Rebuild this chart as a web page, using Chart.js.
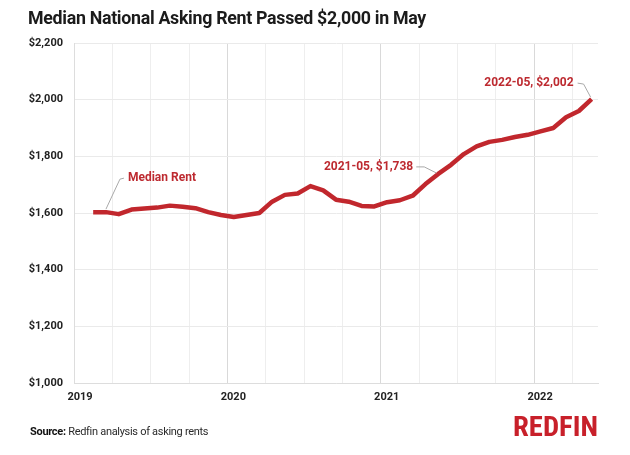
<!DOCTYPE html>
<html><head><meta charset="utf-8">
<script src="https://cdn.jsdelivr.net/npm/chart.js@4.4.1/dist/chart.umd.min.js"></script>
<style>
html,body{margin:0;padding:0;background:#fff;}
#wrap{position:relative;width:630px;height:455px;overflow:hidden;font-family:Roboto,'Liberation Sans',sans-serif;background:#fff;}
#chartBox{position:absolute;left:0;top:0;width:630px;height:455px;}
#title{position:absolute;left:28px;top:8px;font-size:17.8px;line-height:20px;font-weight:700;color:#1b1b1b;white-space:nowrap;letter-spacing:-0.3px;}
#source{position:absolute;left:30px;top:425px;font-size:11px;line-height:14px;color:#2a2a2a;white-space:nowrap;letter-spacing:-0.3px;}
#source b{font-weight:700;color:#111;}
#logo{position:absolute;left:513px;top:413px;font-family:'Liberation Sans Narrow','Roboto Condensed',Roboto,sans-serif;font-weight:700;font-size:28px;line-height:28px;color:#c8202a;white-space:nowrap;transform-origin:0 0;}
</style></head>
<body>
<div id="wrap">
  <div id="chartBox"><canvas id="c" width="630" height="455"></canvas></div>
  <div id="title">Median National Asking Rent Passed $2,000 in May</div>
  <div id="source"><b>Source:</b> Redfin analysis of asking rents</div>
  <div id="logo">REDFIN</div>
</div>
<script>
// ---- data ----
const months = ['2019-02','2019-03','2019-04','2019-05','2019-06','2019-07','2019-08','2019-09','2019-10','2019-11','2019-12',
  '2020-01','2020-02','2020-03','2020-04','2020-05','2020-06','2020-07','2020-08','2020-09','2020-10','2020-11','2020-12',
  '2021-01','2021-02','2021-03','2021-04','2021-05','2021-06','2021-07','2021-08','2021-09','2021-10','2021-11','2021-12',
  '2022-01','2022-02','2022-03','2022-04','2022-05'];
const rent = [1603,1603,1596,1612,1616,1619,1626,1622,1617,1603,1593,
  1586,1593,1600,1640,1664,1669,1695,1680,1647,1640,1625,1623,
  1638,1645,1661,1702,1738,1770,1808,1835,1851,1858,1868,1876,
  1888,1900,1938,1960,2002];
const yearLabels = ['2019','2020','2021','2022'];
const yTickValues = [1000,1200,1400,1600,1800,2000,2200];
const noteMonths = ['2019-03','2021-05','2022-05'];
const noteTexts = ['Median Rent','2021-05, $1,738','2022-05, $2,002'];

// ---- helpers ----
const startYear = Number(yearLabels[0]);
function monthPos(s){ const p = s.split('-').map(Number); return (p[0]-startYear)*12 + (p[1]-1) + 0.5; }
const points = months.map((m,i)=>({x:monthPos(m), y:rent[i]}));

const RED = '#c1272d';
const annot = {
  id:'annot',
  afterDatasetsDraw(chart){
    const ctx = chart.ctx, xs = chart.scales.x, ys = chart.scales.y;
    ctx.save();
    noteMonths.forEach((m,i)=>{
      const idx = months.indexOf(m);
      const px = xs.getPixelForValue(monthPos(m));
      const py = ys.getPixelForValue(rent[idx]);
      ctx.strokeStyle = '#a9a9a9'; ctx.lineWidth = 1;
      ctx.fillStyle = '#bd2a30';
      ctx.textBaseline = 'middle';
      ctx.font = '700 12px Roboto, "Liberation Sans", sans-serif';
      ctx.beginPath();
      if(i===0){
        ctx.moveTo(px, py-3); ctx.lineTo(px+14, py-33); ctx.lineTo(px+18, py-34); ctx.stroke();
        ctx.textAlign = 'left';
        ctx.fillText(noteTexts[i], px+22, py-34);
      } else if(i===1){
        ctx.moveTo(px-2, py-1); ctx.lineTo(px-14, py-7); ctx.lineTo(px-22, py-7); ctx.stroke();
        ctx.textAlign = 'right';
        ctx.fillText(noteTexts[i], px-25, py-7);
      } else {
        ctx.moveTo(px-1, py-2); ctx.lineTo(px-8, py-15); ctx.lineTo(px-14, py-16); ctx.stroke();
        ctx.textAlign = 'right';
        ctx.fillText(noteTexts[i], px-18, py-16);
      }
    });
    ctx.restore();
  }
};

new Chart(document.getElementById('c'), {
  type:'line',
  data:{ datasets:[{ data:points, borderColor:RED, borderWidth:4.5, pointRadius:0, tension:0, borderJoinStyle:'round', fill:false }] },
  options:{
    responsive:false, animation:false,
    layout:{ padding:{ left:0, right:32, top:43, bottom:42 } },
    plugins:{ legend:{display:false}, tooltip:{enabled:false} },
    scales:{
      x:{
        type:'linear', min:0, max:41,
        afterFit(s){ s.height = 30; },
        afterBuildTicks(s){ s.ticks = []; for(let v=0; v<=39; v+=3) s.ticks.push({value:v}); },
        ticks:{ autoSkip:false, maxRotation:0, padding:8, labelOffset:6,
          font:{family:'Roboto, "Liberation Sans", sans-serif', size:11, weight:'700'}, color:'#222',
          callback:(v)=> v%12===0 ? (yearLabels[v/12]||'') : '' },
        grid:{ drawTicks:false, color:(c)=> (c.tick && c.tick.value%12===0) ? '#d9d9d9' : '#eeeeee' },
        border:{ display:true, color:'#dddddd' }
      },
      y:{
        min:1000, max:2200,
        afterFit(s){ s.width = 74; },
        afterBuildTicks(s){ s.ticks = yTickValues.map(v=>({value:v})); },
        ticks:{ padding:11, font:{family:'Roboto, "Liberation Sans", sans-serif', size:11, weight:'700'}, color:'#222',
          callback:(v)=> '$' + Number(v).toLocaleString('en-US') },
        grid:{ drawTicks:false, color:'#eaeaea' },
        border:{ display:true, color:'#dddddd' }
      }
    }
  },
  plugins:[annot]
});

// fit logo width to the reference wordmark width
const logo = document.getElementById('logo');
const w = logo.getBoundingClientRect().width;
if (w > 0) logo.style.transform = 'scaleX(' + (85/w) + ')';
</script>
</body></html>
